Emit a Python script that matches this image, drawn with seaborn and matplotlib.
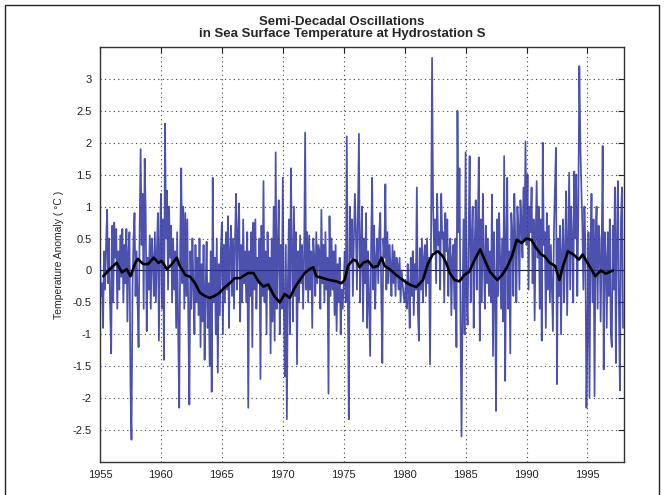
import numpy as np
import pandas as pd
import matplotlib
matplotlib.use("Agg")
import matplotlib.pyplot as plt
import seaborn as sns
from matplotlib.patches import Rectangle

# ---- data (monthly SST anomaly, degC), one row per year ----
start_year = 1955
anom_1955_1964 = [
    0.1, -0.4, -0.2, -0.9, 0.3, -0.3, 0.4, 0.95, -0.2, 0.5, -0.6, -1.3,
    0.7, -0.5, 0.75, 0.2, 0.65, -0.6, 0.3, -0.3, 0.55, -0.1, 0.65, -0.5,
    0.4, -0.2, 0.65, -0.8, 0.3, 0.6, -1.8, -2.65, -0.3, 0.5, 0.9, -0.4,
    0.3, -0.5, -1.2, 0.6, 1.9, 0.4, 1.2, -0.6, 1.75, 0.9, -0.95, 0.2,
    -0.3, 0.55, -0.6, 0.5, 0.2, -0.4, 0.6, -0.5, 0.3, 0.9, -1.1, 0.4,
    1.2, -0.6, 0.8, -1.4, 2.3, 0.5, 1.25, -0.3, 1.0, 0.2, 0.7, -0.5,
    0.5, -0.3, 0.3, -0.9, 0.6, -1.0, -2.15, 0.4, 1.6, -0.2, 1.0, -0.6,
    0.9, -0.4, 0.8, -0.8, -2.1, 0.3, -0.6, 0.5, -0.2, -1.0, 0.4, -0.5,
    0.2, -0.7, 0.5, -1.2, 0.1, -0.8, 0.4, -1.4, -0.3, 0.45, -0.9, -0.2,
    -1.5, 0.3, -1.9, 1.45, -0.5, 0.2, -1.0, 0.5, -1.6, 0.1, -0.7, 0.3,
]
anom_1965_1974 = [
    0.75, -1.0, 0.4, -0.5, 0.6, -0.3, 0.85, -0.9, 0.3, 0.7, -0.4, 0.5,
    -0.6, 0.5, 1.2, -0.3, 0.6, 1.05, -0.8, 0.4, -0.5, 0.8, -0.2, 0.3,
    -0.5, 0.6, -2.15, 0.3, -0.4, 0.6, -1.2, 0.75, -0.3, 0.8, -0.6, 0.2,
    -0.2, 0.5, -1.7, 0.7, -0.4, 1.4, -0.5, 0.3, -1.0, 0.6, -0.3, 0.2,
    -1.3, 0.5, -0.8, 1.0, -1.1, 1.85, -0.6, 0.3, 1.1, -1.0, 0.4, -0.6,
    1.45, -0.5, -1.66, 0.4, -2.33, -0.2, 0.8, -1.0, 1.6, 0.3, -0.8, 1.0,
    -0.4, 0.6, -1.47, 0.3, -0.5, 0.55, -0.2, 0.4, -0.6, 0.2, 2.16, -0.3,
    0.6, -0.5, 0.55, -0.3, 0.3, -0.9, 0.5, 0.2, -0.4, 0.6, -0.2, 0.4,
    0.3, -0.6, 0.95, -0.2, 0.4, -0.5, 0.6, -0.3, 0.2, -1.93, 0.85, -0.4,
    0.5, -0.3, 0.3, -0.7, 0.4, -0.95, 0.1, -0.5, 0.2, -1.0, -0.3, -0.6,
]
anom_1975_1984 = [
    -0.2, 0.3, -0.5, 2.1, -0.3, -2.33, 1.0, 0.2, 0.8, -0.4, 0.5, 1.2,
    0.6, -0.3, 0.9, 2.14, -0.5, 0.3, 1.0, -0.8, 0.5, -0.2, 0.9, -0.9,
    0.3, -0.5, -1.34, 0.4, 1.45, -0.3, 0.7, -0.6, 0.2, 0.5, -0.2, 0.6,
    0.9, -0.4, -1.45, 0.5, 0.2, 1.35, -0.3, 0.6, -0.2, 0.4, 0.1, -0.4,
    0.4, -0.2, 0.3, -0.4, 0.2, 0.1, -0.3, 0.2, -0.5, 0.0, -0.2, -0.4,
    -0.5, -0.2, -0.6, 0.1, -0.3, -0.9, 0.2, -0.4, 0.3, -0.7, 0.1, -0.3,
    1.3, -0.6, -1.1, 0.35, -0.3, 0.5, -0.5, 0.2, 0.4, -0.4, 0.5, -0.2,
    0.2, -1.47, 0.5, 3.33, 1.0, 0.3, 0.8, -0.2, 1.2, 0.4, 0.6, -0.3,
    1.2, 0.5, 0.6, -0.5, 0.9, 0.3, 0.8, -0.4, 0.3, 0.5, -0.7, 0.2,
    0.4, -0.6, 0.5, -1.2, 2.5, 0.6, 1.6, -0.8, -2.6, -0.5, 0.8, -1.0,
]
anom_1985_1994 = [
    1.85, -0.4, -0.85, 0.6, 1.79, -0.5, 0.5, 1.0, -0.9, 0.4, 1.1, -0.3,
    0.6, 1.77, -1.1, 0.8, -0.5, 1.2, 0.2, -0.6, 0.7, -0.2, 0.5, -0.4,
    0.3, -0.5, 1.19, -1.34, 0.6, -0.3, -2.2, 0.8, -0.4, 0.9, 0.2, -0.6,
    0.5, -0.8, 1.79, -1.73, 0.5, 1.45, -0.6, 0.3, -1.3, 0.9, 0.6, -0.4,
    1.2, 0.4, -0.5, 1.0, 0.7, -0.3, 1.1, 0.8, 0.2, 1.3, 0.5, 2.02,
    0.4, 1.5, -0.3, 1.0, 0.6, 1.3, -0.2, 0.8, -0.78, 0.5, 1.4, 0.2,
    1.0, -0.6, 0.8, -1.1, 2.0, 0.4, 0.6, -0.9, 0.9, -0.3, 0.7, -0.5,
    0.4, -0.3, -0.95, 0.6, 1.3, 1.92, -1.78, 0.5, -0.4, 0.7, -1.0, 0.3,
    0.8, -0.5, 0.3, 1.24, -0.7, 0.4, 1.53, -0.3, 1.0, 0.5, -0.5, 1.55,
    0.5, 1.5, -0.4, 0.9, 3.2, 2.0, 1.3, 0.7, -0.3, 1.0, 0.4, -2.15,
]
anom_1995_1997 = [
    -1.0, 0.6, -1.99, 0.3, 1.2, -0.5, 0.8, -1.97, 0.5, 1.0, -0.6, 0.7,
    0.5, -0.8, 0.3, 1.95, -1.55, 0.6, 0.2, -0.9, 0.6, -0.4, 0.8, -1.0,
    -1.2, 0.7, -0.3, 1.3, -1.45, 0.5, 1.4, -0.6, -1.88, 0.8, 1.3, -0.9,
]

# semi-decadal smoothed curve (black)
smooth_year = [1955.27, 1955.8, 1956.37, 1956.8, 1957.2, 1957.5, 1957.9, 1958.1,
               1958.55, 1958.96, 1959.4, 1959.8, 1960.05, 1960.5, 1960.9, 1961.3,
               1961.55, 1962.0, 1962.4, 1962.8, 1963.2, 1963.6, 1964.0, 1964.4,
               1964.8, 1965.2, 1965.65, 1966.07, 1966.5, 1966.9, 1967.15, 1967.6,
               1968.0, 1968.4, 1968.8, 1969.3, 1969.75, 1970.16, 1970.57, 1970.98,
               1971.4, 1971.8, 1972.2, 1972.5, 1972.75, 1973.3, 1973.85, 1974.4,
               1974.8, 1975.08, 1975.35, 1975.76, 1976.04, 1976.3, 1976.6, 1977.0,
               1977.4, 1977.8, 1978.1, 1978.36, 1978.77, 1979.3, 1979.86, 1980.4,
               1980.96, 1981.5, 1981.9, 1982.3, 1982.73, 1983.14, 1983.4, 1983.7,
               1984.1, 1984.5, 1984.9, 1985.3, 1985.7, 1986.2, 1986.6, 1987.0,
               1987.6, 1988.0, 1988.4, 1988.8, 1989.2, 1989.6, 1990.0, 1990.4,
               1990.8, 1991.2, 1991.5, 1991.9, 1992.35, 1992.7, 1993.0, 1993.4,
               1993.85, 1994.3, 1994.6, 1995.25, 1995.65, 1996.1, 1996.5, 1997.1]
smooth_value = [-0.09, 0.02, 0.12, -0.03, 0.02, -0.09, 0.12, 0.18,
                0.10, 0.10, 0.20, 0.12, 0.15, 0.02, 0.10, 0.20,
                0.07, -0.07, -0.10, -0.20, -0.35, -0.40, -0.43, -0.40,
                -0.35, -0.27, -0.20, -0.12, -0.12, -0.07, -0.04, -0.04,
                -0.17, -0.25, -0.22, -0.40, -0.50, -0.37, -0.43, -0.27,
                -0.15, -0.04, 0.02, 0.05, -0.09, -0.12, -0.15, -0.17,
                -0.20, -0.15, 0.07, 0.17, 0.15, 0.05, 0.12, 0.15,
                0.05, 0.07, 0.20, 0.07, 0.02, -0.07, -0.15, -0.22,
                -0.26, -0.15, 0.10, 0.25, 0.30, 0.22, 0.12, -0.04,
                -0.15, -0.17, -0.07, -0.02, 0.15, 0.33, 0.15, -0.02,
                -0.15, -0.07, 0.05, 0.22, 0.48, 0.43, 0.50, 0.48,
                0.35, 0.25, 0.22, 0.12, 0.07, -0.15, 0.07, 0.30,
                0.25, 0.17, 0.25, 0.04, -0.09, 0.00, -0.05, 0.00]

x_ticks = [1955, 1960, 1965, 1970, 1975, 1980, 1985, 1990, 1995]
y_ticks = [-2.5, -2, -1.5, -1, -0.5, 0, 0.5, 1, 1.5, 2, 2.5, 3]
y_tick_labels = ["-2.5", "-2", "-1.5", "-1", "-0.5", "0", "0.5", "1", "1.5", "2", "2.5", "3"]
title_text = "Semi-Decadal Oscillations\nin Sea Surface Temperature at Hydrostation S"
ylabel_text = "Temperature Anomaly ( °C )"

# ---- build frames ----
anom = anom_1955_1964 + anom_1965_1974 + anom_1975_1984 + anom_1985_1994 + anom_1995_1997
t = start_year + np.arange(len(anom)) / 12.0
df = pd.DataFrame({"year": t, "anomaly": anom})
sm = pd.DataFrame({"year": smooth_year, "anomaly": smooth_value})

sns.set_style("white")
plt.rcParams["font.family"] = ["Liberation Sans Narrow", "Liberation Sans", "DejaVu Sans"]

fig = plt.figure(figsize=(6.65, 4.95), dpi=100)
ax = fig.add_axes([100 / 665, 1 - 462 / 495, 524 / 665, 415 / 495])

ax.grid(True, linestyle=(0, (1, 3)), color="#444444", linewidth=0.8)
ax.set_axisbelow(True)
ax.axhline(0, color="#222222", linewidth=0.8, zorder=2)

sns.lineplot(data=df, x="year", y="anomaly", ax=ax, color="#2c32a0",
             linewidth=1.25, alpha=0.85, zorder=3)
sns.lineplot(data=sm, x="year", y="anomaly", ax=ax, color="black",
             linewidth=1.9, zorder=4)

ax.set_xlim(1955, 1998)
ax.set_ylim(-3, 3.5)
ax.set_xticks(x_ticks)
ax.set_xticklabels([str(v) for v in x_ticks])
ax.set_yticks(y_ticks)
ax.set_yticklabels(y_tick_labels)
ax.tick_params(direction="in", top=True, right=True, length=4, width=0.8,
               labelsize=8, colors="#222222", pad=6)
for s in ax.spines.values():
    s.set_visible(True)
    s.set_color("#333333")
    s.set_linewidth(1.0)

ax.set_xlabel("")
ax.set_ylabel(ylabel_text, fontsize=7.5, labelpad=6)
fig.text(0.5145, 1 - 28 / 495, title_text, ha="center", va="center",
         fontsize=9.5, fontweight="bold", linespacing=1.05)

# figure frame (left, top, right)
fig.patches.append(Rectangle((5 / 665, -0.05), 654 / 665, 1.05 - 5 / 495,
                             transform=fig.transFigure, fill=False,
                             edgecolor="#222222", linewidth=1.0))

fig.savefig("out.png", dpi=100)
